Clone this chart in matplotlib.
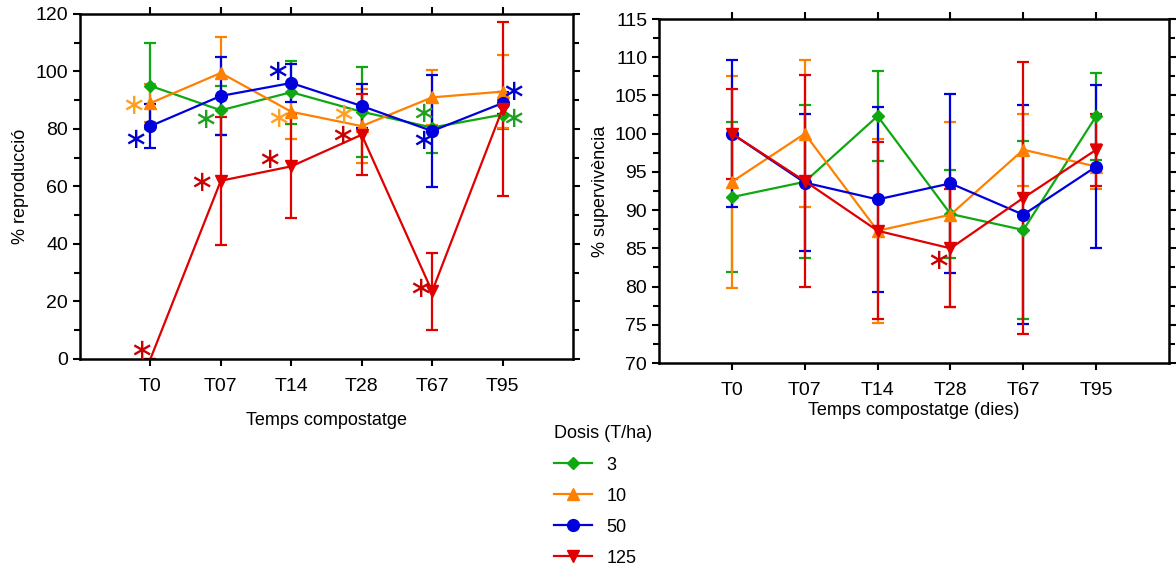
import numpy as np
import matplotlib
matplotlib.use("Agg")
import matplotlib.pyplot as plt
from matplotlib.lines import Line2D
from matplotlib.ticker import MultipleLocator

plt.rcParams['font.family'] = ['Liberation Sans', 'DejaVu Sans']

categories = ['T0', 'T07', 'T14', 'T28', 'T67', 'T95']
doses = ['3', '10', '50', '125']

# % reproduccio (left panel)
repro = {
    '3':   [95, 86.5, 92.8, 86, 80.5, 85],
    '10':  [89, 99.5, 86, 81, 91, 93],
    '50':  [81, 91.5, 96, 88, 79.3, 89],
    '125': [0, 62, 67, 78, 23.5, 87],
}
repro_err = {
    '3':   [15, 8.5, 11, 15.6, 9, 5],
    '10':  [6.5, 12.5, 9.6, 12.8, 9.5, 12.6],
    '50':  [7.6, 13.5, 6.5, 7.6, 19.4, 3.8],
    '125': [0, 22.2, 18.1, 14, 13.5, 30.3],
}

# % supervivencia (right panel)
surv = {
    '3':   [91.7, 93.7, 102.3, 89.5, 87.4, 102.3],
    '10':  [93.7, 100, 87.3, 89.4, 97.9, 95.7],
    '50':  [100, 93.6, 91.4, 93.5, 89.4, 95.7],
    '125': [100, 93.8, 87.3, 85, 91.6, 97.9],
}
surv_err = {
    '3':   [9.8, 10, 5.9, 5.7, 11.6, 5.7],
    '10':  [13.9, 9.6, 12, 12.1, 4.7, 3],
    '50':  [9.6, 9, 12.1, 11.7, 14.3, 10.7],
    '125': [5.9, 13.9, 11.6, 7.7, 17.8, 4.7],
}

# significance asterisks: (dose, x position, y value)
repro_stars = [
    ('10', -0.24, 88), ('50', -0.21, 76), ('125', -0.12, 2.7),
    ('3', 0.78, 83.2), ('125', 0.73, 61.2),
    ('50', 1.80, 99.7), ('10', 1.82, 83.5), ('125', 1.69, 69.1),
    ('10', 2.74, 85), ('125', 2.73, 77.6),
    ('3', 3.88, 85.3), ('50', 3.88, 75.9), ('125', 3.83, 24.3),
    ('50', 5.16, 92.8), ('3', 5.16, 83.5),
]
surv_stars = [('125', 2.83, 83.3)]

colors = {'3': '#10A810', '10': '#FF8000', '50': '#0000DD', '125': '#E00000'}
star_colors = {'3': '#20A020', '10': '#FFA020', '50': '#0000CC', '125': '#C80000'}
markers = {'3': 'D', '10': '^', '50': 'o', '125': 'v'}
msizes = {'3': 6.5, '10': 8, '50': 8.5, '125': 8.5}

fig = plt.figure(figsize=(11.76, 5.69), dpi=100)
ax1 = fig.add_axes([0.068, 0.3691, 0.4192, 0.6063])
ax2 = fig.add_axes([0.5604, 0.362, 0.4337, 0.6046])

x = np.arange(len(categories))


def draw(ax, values, errs, stars, hide_first_red=False):
    for d in doses:
        mev = None
        if hide_first_red and d == '125':
            mev = list(range(1, len(categories)))
        ax.errorbar(x, values[d], yerr=errs[d], color=colors[d],
                    marker=markers[d], markersize=msizes[d], lw=1.6,
                    elinewidth=1.6, capsize=4.5, capthick=1.6,
                    markevery=mev, label=d)
    for d, sx, sy in stars:
        ax.text(sx, sy, '\u2217', color=star_colors[d], fontsize=21,
                ha='center', va='center', family=['DejaVu Sans'])
    ax.set_xlim(-1, 6)
    ax.set_xticks(x)
    ax.set_xticklabels(categories)
    for s in ax.spines.values():
        s.set_linewidth(1.8)
    ax.tick_params(axis='both', which='both', direction='out', width=1.5,
                   labelsize=14, top=True, right=True, labelright=False,
                   labeltop=False)
    ax.tick_params(axis='both', which='major', length=5)
    ax.tick_params(axis='y', which='minor', length=4)
    ax.tick_params(axis='x', which='major', pad=9)


draw(ax1, repro, repro_err, repro_stars, hide_first_red=True)
ax1.set_ylim(0, 120)
ax1.yaxis.set_major_locator(MultipleLocator(20))
ax1.yaxis.set_minor_locator(MultipleLocator(10))
ax1.set_ylabel('% reproducció', fontsize=13, labelpad=5)
ax1.set_xlabel('Temps compostatge', fontsize=13, labelpad=12)

draw(ax2, surv, surv_err, surv_stars)
ax2.set_ylim(70, 115)
ax2.yaxis.set_major_locator(MultipleLocator(5))
ax2.yaxis.set_minor_locator(MultipleLocator(2.5))
ax2.set_ylabel('% supervivència', fontsize=13, labelpad=4)
ax2.set_xlabel('Temps compostatge (dies)', fontsize=13, labelpad=2)

handles = [Line2D([], [], color=colors[d], marker=markers[d],
                  markersize=msizes[d], lw=1.6) for d in doses]
fig.legend(handles=handles, labels=doses, title='Dosis (T/ha)',
           loc='upper left', bbox_to_anchor=(0.465, 0.265),
           frameon=False, fontsize=13, title_fontsize=13,
           handlelength=2.1, handletextpad=0.8, labelspacing=0.78,
           alignment='left', borderaxespad=0)

fig.savefig('out.png', dpi=100)
